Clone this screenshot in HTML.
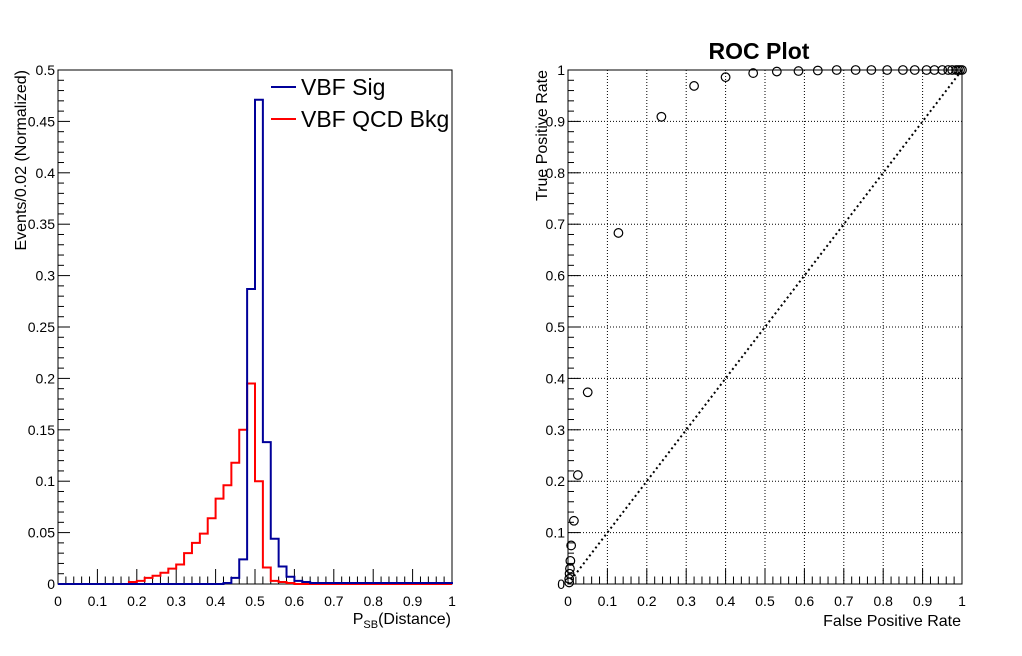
<!DOCTYPE html>
<html><head><meta charset="utf-8"><style>
body{margin:0;background:#fff;}
svg{display:block;font-family:"Liberation Sans",sans-serif;}
</style></head><body>
<svg id="c" width="1022" height="656"></svg>
<script>
const binWidth = 0.02;
const sigValues = [0,0,0,0,0,0,0,0,0,0, 0,0,0,0,0,0,0,0,0,0, 0,0.001,0.006,0.024,0.287,0.471,0.138,0.044,0.017,0.007, 0.003,0.002,0.001,0.001,0.001,0.001,0.001,0.001,0.001,0.001, 0.001,0.001,0.001,0.001,0.001,0.001,0.001,0.001,0.001,0.001];
const bkgValues = [0,0,0,0,0,0,0,0,0,0.002, 0.003,0.006,0.008,0.011,0.015,0.019,0.030,0.040,0.049,0.064, 0.083,0.096,0.118,0.150,0.195,0.100,0.016,0.003,0.002,0.001, 0,0,0,0,0,0,0,0,0,0, 0,0,0,0,0,0,0,0,0,0];
const rocFPR = [0.003,0.003,0.004,0.005,0.006,0.008,0.015,0.025,0.05,0.128,0.237,0.32,0.4,0.47,0.53,0.585,0.634,0.682,0.73,0.77,0.81,0.85,0.88,0.91,0.93,0.95,0.965,0.975,0.985,0.99,0.995,1.0];
const rocTPR = [0.003,0.01,0.02,0.03,0.045,0.075,0.123,0.212,0.373,0.683,0.909,0.969,0.986,0.994,0.997,0.998,0.999,1,1,1,1,1,1,1,1,1,1,1,1,1,1,1];
const leftXTicks = ["0","0.1","0.2","0.3","0.4","0.5","0.6","0.7","0.8","0.9","1"];
const leftYTicks = ["0","0.05","0.1","0.15","0.2","0.25","0.3","0.35","0.4","0.45","0.5"];
const rocTicks = ["0","0.1","0.2","0.3","0.4","0.5","0.6","0.7","0.8","0.9","1"];

const NS="http://www.w3.org/2000/svg", svg=document.getElementById('c');
function mk(t,a,p){const e=document.createElementNS(NS,t);for(const k in a)e.setAttribute(k,a[k]);(p||svg).appendChild(e);return e;}
const L={x0:58,x1:452,y0:584,y1:70};
const lx=v=>L.x0+v*(L.x1-L.x0), ly=v=>L.y0-v/0.5*(L.y0-L.y1);
const R={x0:568,x1:962,y0:584,y1:70};
const rx=v=>R.x0+v*(R.x1-R.x0), ry=v=>R.y0-v*(R.y0-R.y1);

let f=mk('rect',{x:L.x0,y:L.y1,width:L.x1-L.x0,height:L.y0-L.y1,fill:'none',stroke:'#000','stroke-width':1});

const grid=mk('g',{stroke:'#000','stroke-width':1,'stroke-dasharray':'1,2'});

for(let i=1;i<10;i++){mk('line',{x1:rx(i/10),x2:rx(i/10),y1:R.y0,y2:R.y1},grid);mk('line',{x1:R.x0,x2:R.x1,y1:ry(i/10),y2:ry(i/10)},grid);}
f=mk('rect',{x:R.x0,y:R.y1,width:R.x1-R.x0,height:R.y0-R.y1,fill:'none',stroke:'#000','stroke-width':1});


function ticksX(g,fx,y0,n,minor,len){for(let i=0;i<=n*minor;i++){const x=fx(i/(n*minor));const l=i%minor==0?len:len/2;mk('line',{x1:x,x2:x,y1:y0,y2:y0-l},g);}}
function ticksY(g,fy,x0,n,minor,len,vmax){for(let i=0;i<=n*minor;i++){const y=fy(vmax*i/(n*minor));const l=i%minor==0?len:len/2;mk('line',{x1:x0,x2:x0+l,y1:y,y2:y},g);}}
let tg=mk('g',{stroke:'#000','stroke-width':1});
ticksX(tg,lx,L.y0,10,5,15);ticksY(tg,ly,L.x0,10,5,12,0.5);
tg=mk('g',{stroke:'#000','stroke-width':1});
ticksX(tg,rx,R.y0,10,5,15);ticksY(tg,ry,R.x0,10,5,12,1);

function lab(x,y,t,anchor,size,name){const e=mk('text',{x:x,y:y,'text-anchor':anchor,'font-size':size||14});e.textContent=t;return e;}
leftXTicks.forEach((t,i)=>lab(lx(i/10),606,t,'middle',14,'left-x-tick-label'));
leftYTicks.forEach((t,i)=>lab(L.x0-3,ly(i*0.05)+5,t,'end',14,'left-y-tick-label'));
rocTicks.forEach((t,i)=>lab(rx(i/10),606,t,'middle',14,'roc-x-tick-label'));
rocTicks.forEach((t,i)=>lab(R.x0-3,ry(i/10)+5,t,'end',14,'roc-y-tick-label'));

function hist(vals,color,name){let d='M'+lx(0)+','+ly(0);vals.forEach((v,i)=>{d+=' L'+lx(i*binWidth)+','+ly(v)+' L'+lx((i+1)*binWidth)+','+ly(v);});d+=' L'+lx(1)+','+ly(0);
const p=mk('path',{d:d,fill:'none',stroke:color,'stroke-width':2});}
hist(bkgValues,'#ff0000','bkg-histogram');
hist(sigValues,'#000099','sig-histogram');

let lg=mk('g',{});
mk('line',{x1:271,x2:296,y1:87,y2:87,stroke:'#000099','stroke-width':2},lg);
mk('line',{x1:271,x2:296,y1:119,y2:119,stroke:'#ff0000','stroke-width':2},lg);
let t=mk('text',{x:301,y:95,'font-size':23},lg);t.textContent='VBF Sig';
t=mk('text',{x:301,y:127,'font-size':23},lg);t.textContent='VBF QCD Bkg';

t=mk('text',{x:451,y:624,'text-anchor':'end','font-size':16});t.innerHTML='P<tspan font-size="11" dy="4">SB</tspan><tspan dy="-4">(Distance)</tspan>';
t=mk('text',{x:0,y:0,'text-anchor':'end','font-size':16,transform:'translate(26,70) rotate(-90)'});t.textContent='Events/0.02 (Normalized)';
t=mk('text',{x:961,y:626,'text-anchor':'end','font-size':16});t.textContent='False Positive Rate';
t=mk('text',{x:0,y:0,'text-anchor':'end','font-size':16,transform:'translate(547,70) rotate(-90)'});t.textContent='True Positive Rate';
t=mk('text',{x:759,y:59,'text-anchor':'middle','font-size':23,'font-weight':'bold'});t.textContent='ROC Plot';

let dg=mk('line',{x1:rx(0),y1:ry(0),x2:rx(1),y2:ry(1),stroke:'#000','stroke-width':2,'stroke-dasharray':'2,3'});

rocFPR.forEach((v,i)=>{const c=mk('circle',{cx:rx(v),cy:ry(rocTPR[i]),r:4.3,fill:'none',stroke:'#000','stroke-width':1.2});
});
</script>
</body></html>
